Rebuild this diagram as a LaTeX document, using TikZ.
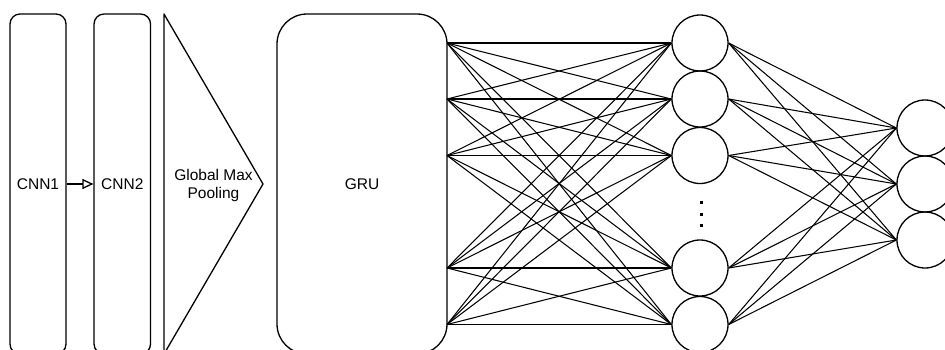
\documentclass[tikz,border=0pt]{standalone}
\usepackage{fontspec}
\setmainfont{Liberation Sans}
\usetikzlibrary{arrows.meta}
\begin{document}
\begin{tikzpicture}[x=1pt,y=-1pt,
  shape line/.style={line width=1.3pt,line join=round},
  layerbox/.style={shape line,draw,rectangle,minimum height=340pt,inner sep=0pt,
    font=\fontsize{15.5}{18}\selectfont},
  neuron/.style={shape line,draw,circle,minimum size=56pt,inner sep=0pt},
  link/.style={line width=1.05pt},
  dot/.style={fill,rectangle,minimum size=3pt,inner sep=0pt}]
\useasboundingbox (0,0) rectangle (945,349);
\clip (0,0) rectangle (945,349);
% CNN blocks
\node[layerbox,rounded corners=10pt,minimum width=56pt] (cnn1) at (38,184) {CNN1};
\node[layerbox,rounded corners=10pt,minimum width=56.5pt] (cnn2) at (122.3,184) {CNN2};
\draw[line width=1.3pt,-{Triangle[open,length=11pt,width=10pt,line width=1.3pt]}] (cnn1.east) -- (cnn2.west);
% pooling triangle
\coordinate (ptop) at (164,14);
\coordinate (papex) at (263,184);
\coordinate (pbot) at (164,354);
\draw[shape line] (ptop) -- (papex) -- (pbot) -- cycle;
\node[align=center,font=\fontsize{15.5}{18}\selectfont] (pool) at (213.5,185) {Global Max\\Pooling};
% GRU
\node[layerbox,rounded corners=30pt,minimum width=170pt] (gru) at (362,184) {GRU};
% hidden layer
\foreach \n/\y in {1/43,2/99,3/155.5,4/268,5/324.5}{
  \coordinate (g\n) at (447,\y);
  \node[neuron] (h\n) at (700,\y) {};
}
\node[dot] (d1) at (701,202) {};
\node[dot] (d2) at (701,214) {};
\node[dot] (d3) at (701,225) {};
% output layer
\foreach \n/\y in {1/128,2/184,3/240}{
  \node[neuron] (o\n) at (925,\y) {};
}
\foreach \i in {1,...,5}{
  \foreach \j in {1,...,5}{
    \draw[link] (g\i) -- (h\j.west);
  }
  \foreach \k in {1,2,3}{
    \draw[link] (h\i.east) -- (o\k.west);
  }
}
\end{tikzpicture}
\end{document}
